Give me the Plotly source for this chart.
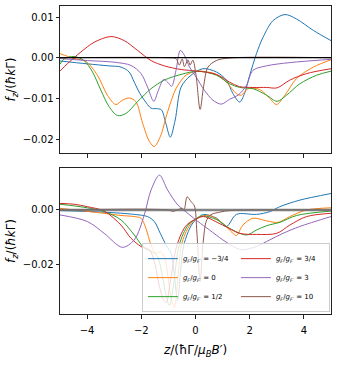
import plotly.graph_objects as go
from plotly.subplots import make_subplots

# g_F / g_F' ratios and matplotlib tab10 colours
RATIOS = ["\u22123/4", "0", "1/2", "3/4", "3", "10"]
COLORS = ["#1f77b4", "#ff7f0e", "#2ca02c", "#d62728", "#9467bd", "#8c564b"]
LEGEND_RANK = [1, 3, 5, 2, 4, 6]  # column-wise order like ncol=2

# ---- top panel ----
Z_BLUE_TOP = [-5, -4, -3.2, -2.75, -2.45, -2.26, -2.05, -1.89, -1.64, -1.45, -1.26, -1.1, -0.93, -0.75,
              -0.53, -0.2, 0.27, 0.77, 1.14, 1.38, 1.63, 1.81, 2.0, 2.25, 2.49, 2.86, 3.3, 3.73, 4.35, 5]
F_BLUE_TOP = [-0.0008, -0.0015, -0.002, -0.0023, -0.0035, -0.006, -0.0088, -0.0104, -0.0124, -0.0125,
              -0.0128, -0.016, -0.0195, -0.0153, -0.0072, -0.0045, -0.0027, -0.0035, -0.0055, -0.0088,
              -0.0109, -0.0088, -0.0043, 0.001, 0.005, 0.0091, 0.0106, 0.0095, 0.0067, 0.0042]

Z_ORANGE_TOP = [-5, -4.48, -4.05, -3.62, -3.25, -2.94, -2.69, -2.44, -2.2, -1.95, -1.7, -1.52, -1.3, -1.03,
                -0.72, -0.35, 0.09, 0.77, 1.14, 1.51, 1.69, 1.94, 2.37, 2.74, 2.99, 3.3, 3.73, 4.35, 5]
F_ORANGE_TOP = [0.001, -0.0002, -0.0009, -0.0043, -0.0092, -0.0115, -0.0104, -0.0099, -0.0108, -0.0161,
                -0.0206, -0.0218, -0.0194, -0.0133, -0.0076, -0.0043, -0.0033, -0.0041, -0.006, -0.0088,
                -0.0092, -0.0076, -0.0078, -0.01, -0.0115, -0.0092, -0.0051, -0.0023, -0.0005]

Z_GREEN_TOP = [-5, -4.85, -4.48, -4.11, -3.8, -3.49, -3.19, -2.88, -2.57, -2.14, -1.64, -1.15, -0.53, 0.09,
               0.77, 1.26, 1.63, 2.12, 2.62, 3.01, 3.36, 3.85, 4.47, 5]
F_GREEN_TOP = [-0.0016, -0.0003, 0.0003, -0.0007, -0.0035, -0.008, -0.012, -0.0142, -0.0137, -0.0108,
               -0.0076, -0.0055, -0.0041, -0.0033, -0.0043, -0.0064, -0.0073, -0.0076, -0.0092, -0.0107,
               -0.0092, -0.0064, -0.0043, -0.0033]

Z_RED_TOP = [-5, -4.73, -4.23, -3.74, -3.12, -2.63, -2.14, -1.64, -1.15, -0.53, 0.09, 0.77, 1.26, 1.63,
             2.12, 2.62, 3.01, 3.48, 4.1, 5]
F_RED_TOP = [-0.0033, -0.0015, 0.0014, 0.0038, 0.0052, 0.0042, 0.0018, -0.0007, -0.002, -0.0029, -0.0033,
             -0.0041, -0.006, -0.0071, -0.0073, -0.0073, -0.0074, -0.0055, -0.0039, -0.0027]

Z_PURPLE_TOP = [-5, -3.99, -3.0, -2.38, -2.01, -1.77, -1.54, -1.37, -1.17, -1.03, -0.88, -0.72, -0.56,
                -0.41, -0.22, 0.02, 0.33, 0.64, 0.95, 1.26, 1.57, 1.88, 2.12, 2.62, 3.48, 5]
F_PURPLE_TOP = [-0.0002, -0.0007, -0.0011, -0.0019, -0.0039, -0.0072, -0.0107, -0.008, -0.0053, -0.006,
                -0.007, -0.0031, 0.0018, 0.0006, -0.0023, -0.0047, -0.008, -0.0104, -0.0114, -0.0102,
                -0.0092, -0.0068, -0.0031, -0.002, -0.0012, -0.0004]

Z_BROWN_TOP = [-5, -1.0, -0.72, -0.6, -0.49, -0.41, -0.28, -0.2, -0.1, 0.02, 0.17, 0.3, 0.46, 0.77, 1.2, 5]
F_BROWN_TOP = [0, 0, -0.0002, -0.0018, -0.0003, -0.0022, -0.0005, -0.0018, -0.0006, -0.0043, -0.0127,
               -0.007, -0.0023, -0.0007, -0.0001, 0]

# ---- bottom panel ----
Z_BLUE_BOT = [-5, -3.37, -2.26, -1.77, -1.52, -1.3, -1.09, -0.9, -0.78, -0.66, -0.55, -0.43, -0.15, 0.09,
              0.3, 0.78, 1.14, 1.51, 2.25, 2.74, 3.11, 3.85, 5]
F_BLUE_BOT = [-0.0002, -0.0008, -0.0016, -0.0024, -0.0042, -0.0085, -0.0127, -0.0158, -0.024, -0.033,
              -0.022, -0.0127, -0.0055, -0.0028, -0.0016, -0.003, -0.006, -0.0016, -0.0016, -0.0006,
              0.0012, 0.0036, 0.006]

Z_ORANGE_BOT = [-5, -3.37, -2.75, -2.26, -2.01, -1.83, -1.64, -1.46, -1.3, -1.15, -1.02, -0.9, -0.78, -0.65,
                -0.52, -0.21, 0.09, 0.51, 1.0, 1.38, 1.51, 1.75, 2.12, 2.63, 3.05, 3.48, 4.1, 5]
F_ORANGE_BOT = [0.0006, -0.0012, -0.002, -0.0024, -0.003, -0.0067, -0.0127, -0.0158, -0.0152, -0.017,
                -0.0239, -0.032, -0.0355, -0.025, -0.0127, -0.0055, -0.0028, -0.002, -0.0048, -0.0085,
                -0.0093, -0.0055, -0.003, -0.004, -0.0045, -0.0024, 0, 0.0008]

Z_GREEN_BOT = [-5, -3.99, -3.37, -2.75, -2.26, -1.89, -1.58, -1.4, -1.21, -1.05, -0.96, -0.82, -0.6, -0.27,
               0.09, 0.3, 0.78, 1.26, 1.88, 2.25, 2.63, 3.11, 3.73, 5]
F_GREEN_BOT = [0.0021, 0.0008, -0.0006, -0.0036, -0.0091, -0.0139, -0.0154, -0.017, -0.0248, -0.0327,
               -0.0348, -0.028, -0.0127, -0.0055, -0.0028, -0.0022, -0.0035, -0.0067, -0.0091, -0.0073,
               -0.0057, -0.0045, -0.002, -0.0004]

Z_RED_BOT = [-5, -4.48, -3.99, -3.37, -2.75, -2.38, -2.01, -1.7, -1.52, -1.33, -1.15, -1.07, -0.96, -0.68,
             -0.33, 0.09, 0.3, 1.0, 1.63, 2.25, 3.0, 3.48, 4.1, 5]
F_RED_BOT = [0.0024, 0.0021, 0.0012, -0.0004, -0.0055, -0.0103, -0.0133, -0.0145, -0.0188, -0.0279,
             -0.0333, -0.0336, -0.028, -0.0127, -0.0055, -0.003, -0.0024, -0.0055, -0.0085, -0.0089,
             -0.0085, -0.0055, -0.0024, -0.0012]

Z_PURPLE_BOT = [-5, -3.99, -3.37, -2.7, -2.26, -1.89, -1.64, -1.33, -1.03, -0.65, -0.25, 0.09, 0.52, 1.01,
                1.51, 1.75, 2.25, 2.74, 3.23, 3.85, 5]
F_PURPLE_BOT = [-0.0018, -0.0042, -0.0085, -0.0136, -0.0109, -0.0018, 0.0073, 0.0127, 0.0073, 0.0018,
                -0.0015, -0.0042, -0.0073, -0.0109, -0.0139, -0.0145, -0.0133, -0.0109, -0.0085, -0.006,
                -0.0024]

Z_BROWN_BOT = [-5, -1.0, -0.84, -0.6, -0.5, -0.42, -0.31, -0.16, -0.04, 0.05, 0.17, 0.28, 0.4, 0.55, 0.89,
               1.3, 5]
F_BROWN_BOT = [0, 0, -0.0005, 0.0003, 0.0007, 0.0002, 0.0048, 0.003, 0.0015, -0.008, -0.026, -0.012,
               -0.004, -0.0018, -0.0008, -0.0002, 0]

TOP = [(Z_BLUE_TOP, F_BLUE_TOP), (Z_ORANGE_TOP, F_ORANGE_TOP), (Z_GREEN_TOP, F_GREEN_TOP),
       (Z_RED_TOP, F_RED_TOP), (Z_PURPLE_TOP, F_PURPLE_TOP), (Z_BROWN_TOP, F_BROWN_TOP)]
BOT = [(Z_BLUE_BOT, F_BLUE_BOT), (Z_ORANGE_BOT, F_ORANGE_BOT), (Z_GREEN_BOT, F_GREEN_BOT),
       (Z_RED_BOT, F_RED_BOT), (Z_PURPLE_BOT, F_PURPLE_BOT), (Z_BROWN_BOT, F_BROWN_BOT)]

FONT = "DejaVu Sans"

fig = make_subplots(rows=2, cols=1, shared_xaxes=True)

for i, (z, f) in enumerate(TOP):
    fig.add_trace(go.Scatter(x=z, y=f, mode="lines", showlegend=False,
                             line=dict(color=COLORS[i], width=1, shape="spline", smoothing=0.9)),
                  row=1, col=1)

for i, (z, f) in enumerate(BOT):
    label = "<i>g<sub>F</sub></i>/<i>g<sub>F\u2032</sub></i> = " + RATIOS[i]
    fig.add_trace(go.Scatter(x=z, y=f, mode="lines", name=label, legendrank=LEGEND_RANK[i],
                             line=dict(color=COLORS[i], width=1, shape="spline", smoothing=0.9)),
                  row=2, col=1)

fig.add_hline(y=0, line=dict(color="black", width=1.2), layer="above", row=1, col=1)
fig.add_hline(y=0, line=dict(color="rgba(110,110,110,0.85)", width=2.5), layer="above", row=2, col=1)

axis_style = dict(showline=True, mirror=True, linecolor="#222", linewidth=1, ticks="outside",
                  ticklen=3.5, tickwidth=1, tickcolor="#222", showgrid=False, zeroline=False,
                  automargin=False, tickfont=dict(family=FONT, size=10, color="black"))

fig.update_xaxes(**axis_style, range=[-5, 5], tickvals=[-4, -2, 0, 2, 4])
fig.update_xaxes(showticklabels=False, row=1, col=1)
fig.update_xaxes(domain=[0, 1], ticklabelstandoff=3, row=2, col=1,
                 title=dict(text="<i>z</i>/(\u0127\u0393/<i>\u03bc<sub>B</sub>B</i>\u2032)",
                            font=dict(family=FONT, size=12, color="black"), standoff=11))
fig.update_yaxes(**axis_style)
fig.update_yaxes(range=[-0.0234, 0.0127], domain=[0.5227, 1], tickvals=[-0.02, -0.01, 0, 0.01],
                 tickformat=".2f", row=1, col=1)
fig.update_yaxes(range=[-0.0379, 0.0153], domain=[0, 0.474], tickvals=[-0.02, 0],
                 tickformat=".2f", row=2, col=1)
ytitle = dict(text="<i>f<sub>z</sub></i>/(<i>\u0127k</i>\u0393)",
              font=dict(family=FONT, size=12, color="black"), standoff=4)
fig.update_yaxes(title=ytitle, row=1, col=1)
fig.update_yaxes(title=ytitle, row=2, col=1)

fig.update_layout(
    width=338, height=375,
    margin=dict(l=60, r=7, t=6, b=61),
    paper_bgcolor="white", plot_bgcolor="white",
    legend=dict(orientation="h", x=0.996, xanchor="right", y=0.006, yanchor="bottom",
                entrywidth=48, itemwidth=30, tracegroupgap=0,
                bgcolor="rgba(255,255,255,0.8)", bordercolor="#cccccc", borderwidth=1,
                font=dict(family=FONT, size=7, color="black")),
)

# drop the default page margin so the figure sits at the window origin
fig.write_html("out.html", config={"displayModeBar": False},
               post_script="document.body.style.margin='0';")
